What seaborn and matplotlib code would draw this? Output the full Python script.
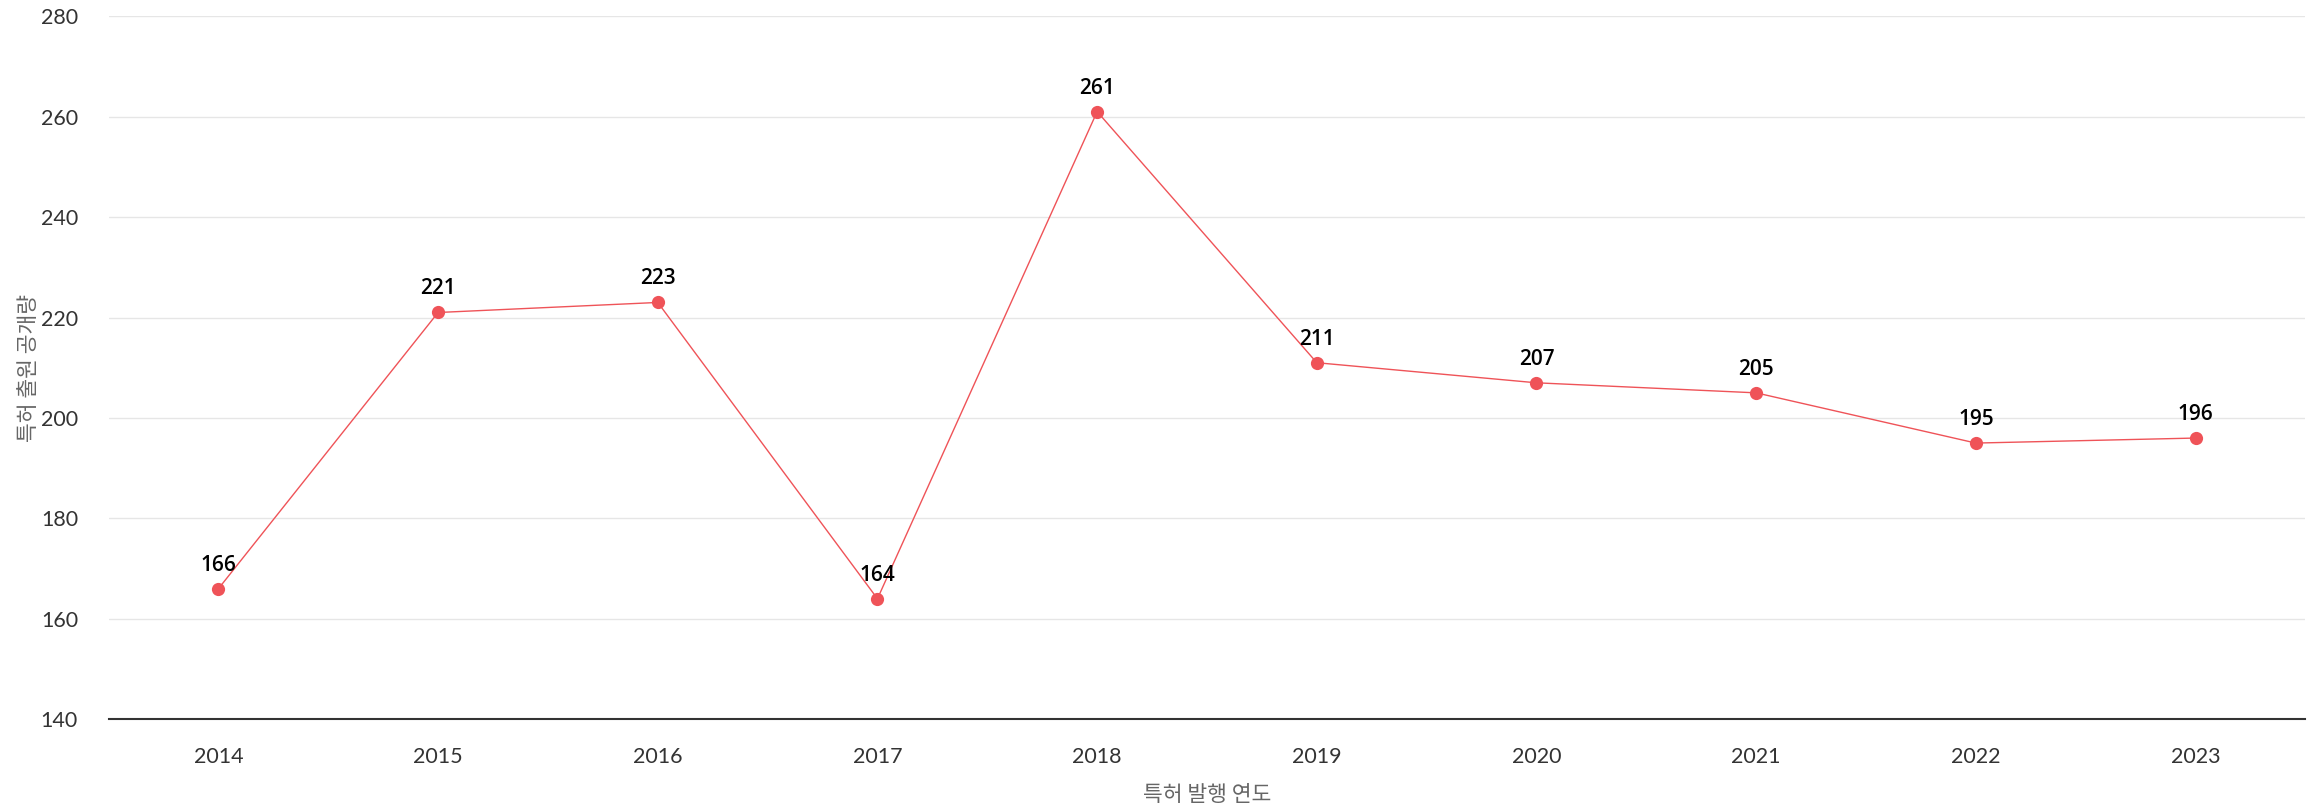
import pandas as pd
import seaborn as sns
import matplotlib.pyplot as plt

# Data
years = ["2014", "2015", "2016", "2017", "2018", "2019", "2020", "2021", "2022", "2023"]
counts = [166, 221, 223, 164, 261, 211, 207, 205, 195, 196]
y_ticks = [140, 160, 180, 200, 220, 240, 260, 280]

df = pd.DataFrame({"year": years, "count": counts})

sns.set_style("white")
plt.rcParams["font.family"] = ["Lato", "Noto Sans CJK KR", "DejaVu Sans"]

fig, ax = plt.subplots(figsize=(23.1, 8.1), dpi=100)
fig.subplots_adjust(left=0.047, right=0.998, top=0.980, bottom=0.112)

red = "#ef5358"
sns.lineplot(data=df, x="year", y="count", ax=ax, color=red, linewidth=1,
             marker="o", markersize=9.5, markeredgewidth=0, sort=False)

# value labels
for i, v in enumerate(df["count"]):
    ax.annotate(str(v), (i, v), xytext=(0, 17), textcoords="offset points",
                ha="center", va="center", fontsize=15, color="black",
                family=["Open Sans", "DejaVu Sans"], fontweight="semibold")

ax.set_xlim(-0.5, len(years) - 0.5)
ax.set_ylim(140, 280)
ax.set_yticks(y_ticks)
ax.yaxis.grid(True, color="#e6e6e6", linewidth=1)
ax.xaxis.grid(False)
ax.set_axisbelow(True)

for s in ["top", "right", "left"]:
    ax.spines[s].set_visible(False)
ax.spines["bottom"].set_color("#333333")
ax.spines["bottom"].set_linewidth(1.5)

ax.tick_params(axis="both", length=0, labelsize=15.5, labelcolor="#333333")
ax.tick_params(axis="x", pad=20)
ax.tick_params(axis="y", pad=22)

ax.set_xlabel("특허 발행 연도", fontsize=15.5, color="#666666",
              family=["Noto Sans CJK KR", "DejaVu Sans"])
ax.xaxis.set_label_coords(0.5, -0.092)
ax.set_ylabel("특허 출원 공개량", fontsize=15.5, color="#666666",
              family=["Noto Sans CJK KR", "DejaVu Sans"])
ax.yaxis.set_label_coords(-0.031, 0.5)

plt.savefig("out.png")
